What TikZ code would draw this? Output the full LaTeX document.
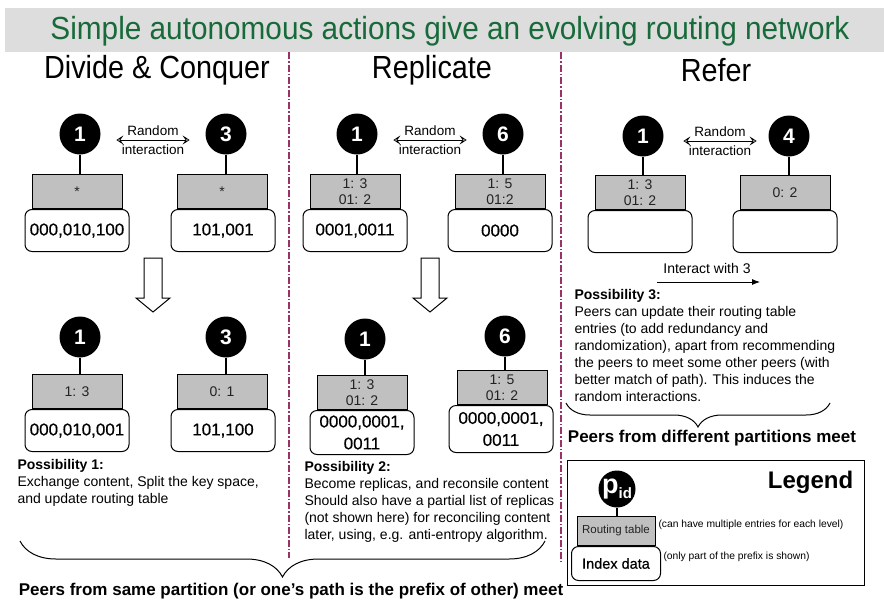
\documentclass[tikz,border=0pt]{standalone}
\usepackage{fontspec}
\setmainfont{Liberation Sans}
\newfontfamily\boxfont{Liberation Sans}[FakeBold=0.6]
\usetikzlibrary{arrows.meta,decorations.pathreplacing}
\definecolor{bandgray}{RGB}{221,221,221}
\definecolor{titlegreen}{RGB}{24,106,58}
\definecolor{sepcol}{RGB}{153,51,102}
\definecolor{rtgray}{RGB}{192,192,192}
\definecolor{rttext}{RGB}{35,35,35}
\newcommand\fsz[2]{\fontsize{#1}{#2}\selectfont}
\newcommand\narrow[1]{\scalebox{.9}[1]{#1}}

\begin{document}
\begin{tikzpicture}[x=1pt,y=-1pt,line width=1pt,
  peer/.style={circle,fill=black,minimum size=41pt,inner sep=0pt,text=white,font=\fsz{21}{21}\bfseries},
  rtab/.style={draw,fill=rtgray,minimum width=90pt,minimum height=34pt,inner sep=0pt,align=center,text=rttext,font=\fsz{14}{16}},
  idx/.style={draw,fill=white,rounded corners=7pt,minimum width=104pt,minimum height=42pt,inner sep=0pt,align=center,font=\boxfont\fsz{17}{22}},
  rint/.style={align=center,inner xsep=5pt,inner ysep=0pt,font=\fsz{13.5}{19}},
  rarr/.style={{Stealth[open,length=7pt,width=9pt,inset=3pt]}-{Stealth[open,length=7pt,width=9pt,inset=3pt]},line width=.8pt},
  ptxt/.style={align=left,inner sep=0pt,font=\fsz{14}{17}},
  head/.style={font=\fsz{32}{32}},
  meet/.style={font=\fsz{17}{17}\bfseries},
  sep/.style={sepcol,line width=1.2pt,dash pattern=on 7pt off 2pt on 1.5pt off 2pt},
  stem/.style={line width=1.5pt}]
\useasboundingbox (0,0) rectangle (884,603);
\fill[bandgray] (5,8) rectangle (884,52);
\node[text=titlegreen,font=\fsz{32}{32}] (title) at (450,31) {\scalebox{.93}[1]{Simple autonomous actions give an evolving routing network}};
\node[head] (h1) at (157,70) {\narrow{Divide \& Conquer}};
\node[head] (h2) at (432,70) {\narrow{Replicate}};
\node[head] (h3) at (716,70) {\narrow{Refer}};
\draw[sep] (289,52) -- (289,558);
\draw[sep] (561,52) -- (561,562);

% divide & conquer
\node[peer] (a1) at (80,134) {1};
\node[peer] (a3) at (226,134) {3};
\node[rtab,anchor=south] (ra1) at (77,209) {*};
\node[idx,anchor=north] (ia1) at (77,209) {000,010,100};
\node[rtab,anchor=south] (ra3) at (222,209) {*};
\node[idx,anchor=north] (ia3) at (223,209) {101,001};
\draw[stem] (a1.south) -- (a1.south |- ra1.north);
\draw[stem] (a3.south) -- (a3.south |- ra3.north);
\node[rint] (ri1) at (153,140) {Random\\interaction};
\draw[rarr] (ri1.west) -- (ri1.east);

\node[peer] (e1) at (80,337) {1};
\node[peer] (e3) at (226,337) {3};
\node[rtab,anchor=south] (re1) at (77,409) {1: 3};
\node[idx,anchor=north] (ie1) at (77,409) {000,010,001};
\node[rtab,anchor=south] (re3) at (222,409) {0: 1};
\node[idx,anchor=north] (ie3) at (223,409) {101,100};
\draw[stem] (e1.south) -- (e1.south |- re1.north);
\draw[stem] (e3.south) -- (e3.south |- re3.north);
\node[ptxt,anchor=north west] (pos1) at (17,459) {\textbf{Possibility 1:}\\Exchange content, Split the key space,\\and update routing table};

% replicate
\node[peer] (b1) at (357,134) {1};
\node[peer] (b6) at (503,134) {6};
\node[rtab,anchor=south] (rb1) at (355,209) {1: 3\\01: 2};
\node[idx,anchor=north] (ib1) at (355,209) {0001,0011};
\node[rtab,anchor=south] (rb6) at (500,209) {1: 5\\01:2};
\node[idx,anchor=north] (ib6) at (500,209) {0000};
\draw[stem] (b1.south) -- (b1.south |- rb1.north);
\draw[stem] (b6.south) -- (b6.south |- rb6.north);
\node[rint] (ri2) at (430,140) {Random\\interaction};
\draw[rarr] (ri2.west) -- (ri2.east);

\node[peer] (c1) at (365,339) {1};
\node[peer] (c6) at (505,336) {6};
\node[rtab,anchor=south] (rc1) at (362,410) {1: 3\\01: 2};
\node[idx,anchor=north,minimum height=44pt] (ic1) at (362,410) {0000,0001,\\0011};
\node[rtab,anchor=south] (rc6) at (502,405) {1: 5\\01: 2};
\node[idx,anchor=north,minimum height=47pt] (ic6) at (501,405) {0000,0001,\\0011};
\draw[stem] (c1.south) -- (c1.south |- rc1.north);
\draw[stem] (c6.south) -- (c6.south |- rc6.north);
\node[ptxt,anchor=north west] (pos2) at (304,461) {\textbf{Possibility 2:}\\Become replicas, and reconsile content\\Should also have a partial list of replicas\\(not shown here) for reconciling content\\later, using, e.g. anti-entropy algorithm.};

\foreach \x in {153,430}
  \draw[fill=white] (\x-9,258) -- (\x+9,258) -- (\x+9,298) -- (\x+17,298)
    -- (\x,312) -- (\x-17,298) -- (\x-9,298) -- cycle;

% refer
\node[peer] (d1) at (643,136) {1};
\node[peer] (d4) at (789,136) {4};
\node[rtab,anchor=south] (rd1) at (640,210) {1: 3\\01: 2};
\node[idx,anchor=north] (id1) at (640,210) {};
\node[rtab,anchor=south] (rd4) at (785,210) {0: 2};
\node[idx,anchor=north] (id4) at (785,210) {};
\draw[stem] (d1.south) -- (d1.south |- rd1.north);
\draw[stem] (d4.south) -- (d4.south |- rd4.north);
\node[rint] (ri3) at (720,141) {Random\\interaction};
\draw[rarr] (ri3.west) -- (ri3.east);
\node[font=\fsz{14}{14}] (iw) at (707,268) {Interact with 3};
\coordinate (iwa) at (657,282);
\coordinate (iwb) at (760,282);
\draw[line width=.8pt,-{Latex[length=8pt,width=6pt]}] (iwa) -- (iwb);
\node[ptxt,anchor=north west] (pos3) at (574,289) {\textbf{Possibility 3:}\\Peers can update their routing table\\entries (to add redundancy and\\randomization), apart from recommending\\the peers to meet some other peers (with\\better match of path). This induces the\\random interactions.};
\coordinate (bra) at (566,403);
\coordinate (brb) at (830,403);
\draw[decorate,decoration={brace,mirror,amplitude=24pt}] (bra) -- (brb);
\node[meet] (m3) at (712,438) {Peers from different partitions meet};

% legend
\node[draw,minimum width=297pt,minimum height=125pt,anchor=north west] (leg) at (567,460) {};
\node[font=\fsz{24}{24}\bfseries,anchor=east] (legt) at (857,482) {Legend};
\node[peer,minimum size=37pt] (pid) at (617,489) {{\fsz{27}{27}p}\raisebox{-5pt}{\fsz{15}{15}id}};
\node[rtab,anchor=south,minimum width=78pt,minimum height=29pt,font=\fsz{11.5}{12}] (lrt) at (616,546) {Routing table};
\node[idx,anchor=north,minimum width=89pt,minimum height=34pt,font=\boxfont\fsz{14.5}{15}] (lix) at (616,546) {Index data};
\draw[stem] (pid.south) -- (pid.south |- lrt.north);
\node[font=\fsz{10.3}{11},anchor=west,inner sep=0pt] (lrtn) at (658,525) {(can have multiple entries for each level)};
\node[font=\fsz{10.3}{11},anchor=west,inner sep=0pt] (lixn) at (663,557) {(only part of the prefix is shown)};

% bottom
\coordinate (bba) at (20,541);
\coordinate (bbb) at (545,541);
\draw[decorate,decoration={brace,mirror,amplitude=36pt}] (bba) -- (bbb);
\node[meet] (m12) at (291,591) {Peers from same partition (or one’s path is the prefix of other) meet};
\end{tikzpicture}
\end{document}
